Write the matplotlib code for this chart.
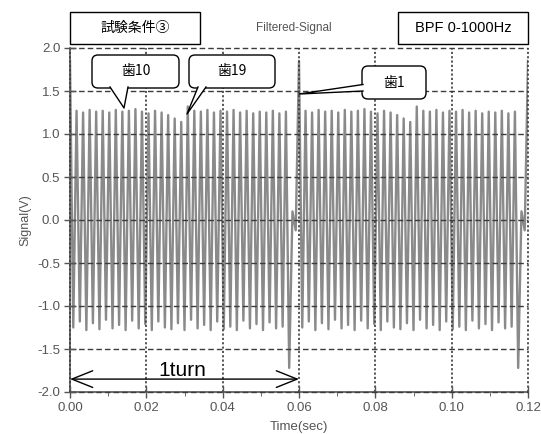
import matplotlib
matplotlib.use("Agg")
import matplotlib.pyplot as plt
from matplotlib.patches import FancyBboxPatch, Polygon, Rectangle
from matplotlib.lines import Line2D
from matplotlib.transforms import Affine2D

# --- data ---
turn_sec = 0.06
teeth_per_turn = 35
n_turns = 2
# peak of each tooth in one turn (tooth 1 first)
peaks = [1.85, 1.27, 1.25, 1.28, 1.26, 1.27, 1.25, 1.28, 1.26, 1.27,
         1.29, 1.26, 1.24, 1.27, 1.25, 1.22, 1.18, 1.14, 1.32, 1.27,
         1.26, 1.28, 1.25, 1.27, 1.26, 1.28, 1.25, 1.27, 1.24, 1.26,
         1.25, 1.27, 1.24, 1.26, 0.10]
# trough following each tooth peak
troughs = [-1.25, -1.18, -1.28, -1.20, -1.27, -1.16, -1.26, -1.22, -1.28, -1.17,
           -1.26, -1.21, -1.28, -1.18, -1.25, -1.27, -1.20, -1.28, -1.16, -1.26,
           -1.22, -1.28, -1.18, -1.27, -1.24, -1.28, -1.17, -1.26, -1.21, -1.28,
           -1.19, -1.26, -1.24, -1.72, -0.12]
xticks = [0.00, 0.02, 0.04, 0.06, 0.08, 0.10, 0.12]
yticks = [-2.0, -1.5, -1.0, -0.5, 0.0, 0.5, 1.0, 1.5, 2.0]

T = turn_sec / teeth_per_turn
t = []
v = []
for turn in range(n_turns):
    for k in range(teeth_per_turn):
        t.append((turn * teeth_per_turn + k) * T)
        v.append(peaks[k])
        t.append((turn * teeth_per_turn + k + 0.5) * T)
        v.append(troughs[k])
t.append(n_turns * teeth_per_turn * T)
v.append(peaks[0])

plt.rcParams['font.family'] = ['Liberation Sans', 'Noto Sans CJK JP', 'DejaVu Sans']
jp = ['Noto Sans CJK JP', 'Liberation Sans']
gray = '#555555'

W, H = 541, 434
fig = plt.figure(figsize=(W / 100, H / 100), dpi=100)
ax = fig.add_axes([70 / W, 1 - 392 / H, (528 - 70) / W, (392 - 48) / H])

ax.plot(t, v, color='#8a8a8a', lw=1.7, zorder=1)

ax.set_xlim(0, 0.12)
ax.set_ylim(-2.0, 2.0)
ax.set_xticks(xticks)
ax.set_xticks([0.01, 0.03, 0.05, 0.07, 0.09, 0.11], minor=True)
ax.set_yticks(yticks)
ax.xaxis.set_major_formatter(matplotlib.ticker.FormatStrFormatter('%.2f'))
ax.yaxis.set_major_formatter(matplotlib.ticker.FormatStrFormatter('%.1f'))
ax.tick_params(axis='both', which='major', direction='inout', length=8,
               color=gray, labelcolor=gray, labelsize=9.5, width=1)
ax.tick_params(axis='x', which='minor', direction='out', length=3, color=gray)
ax.tick_params(axis='x', pad=3)
ax.tick_params(axis='y', pad=3)

for s in ['top', 'right']:
    ax.spines[s].set_visible(False)
for s in ['left', 'bottom']:
    ax.spines[s].set_color(gray)
    ax.spines[s].set_linewidth(1.2)

ax.set_axisbelow(False)
ax.yaxis.grid(True, color='#3c3c3c', lw=1, linestyle=(0, (4, 2.2)))
ax.xaxis.grid(True, color='#3c3c3c', lw=1.2, linestyle=(0, (1.3, 1.3)))
for gl in ax.get_xgridlines() + ax.get_ygridlines():
    gl.set_clip_on(False)

ax.set_xlabel('Time(sec)', color=gray, fontsize=9.5, labelpad=5)
ax.set_ylabel('Signal(V)', color=gray, fontsize=9, labelpad=4)

# 1 turn arrow
ax.annotate('', xy=(0, -1.85), xytext=(turn_sec, -1.85),
            arrowprops=dict(arrowstyle='<->,head_length=1.0,head_width=0.4',
                            color='black', lw=1, mutation_scale=15,
                            shrinkA=0, shrinkB=0))
ax.text(0.0294, -1.81, '1turn', fontsize=15, ha='center', va='baseline')

# pixel coordinate transform (y down)
P = Affine2D().scale(1 / W, -1 / H).translate(0, 1) + fig.transFigure

fig.text(294 / W, 1 - 28 / H, 'Filtered-Signal', color=gray, fontsize=8.5,
         ha='center', va='center')


def plain_box(x0, y0, x1, y1, text, size, family):
    fig.add_artist(Rectangle((x0, y0), x1 - x0, y1 - y0, fc='white', ec='black',
                             lw=1, transform=P, zorder=5))
    fig.text((x0 + x1) / 2 / W, 1 - (y0 + y1) / 2 / H, text, fontsize=size,
             family=family, ha='center', va='center', zorder=6)


def callout(x0, y0, x1, y1, b0, b1, tip, text):
    fig.add_artist(FancyBboxPatch((x0, y0), x1 - x0, y1 - y0,
                                  boxstyle='round,pad=0,rounding_size=6',
                                  fc='white', ec='black', lw=1, transform=P, zorder=5))
    fig.add_artist(Polygon([b0, b1, tip], closed=True, fc='white', ec='none',
                           transform=P, zorder=6))
    fig.add_artist(Line2D([b0[0], tip[0], b1[0]], [b0[1], tip[1], b1[1]],
                          color='black', lw=1, transform=P, zorder=7))
    fig.text((x0 + x1) / 2 / W, 1 - (y0 + y1) / 2 / H, text, fontsize=10,
             family=jp, ha='center', va='center', zorder=8)


plain_box(70, 12, 200, 44, '試験条件③', 10, jp)
plain_box(398, 12, 528, 44, 'BPF 0-1000Hz', 10.5, ['Liberation Sans'])

callout(92, 55, 179, 88, (110, 87), (128, 87), (124, 108), '歯10')
callout(189, 55, 275, 88, (198, 87), (206, 87), (187, 114), '歯19')
callout(362, 66, 426, 99, (363, 84.5), (363, 91), (299, 94), '歯1')

fig.savefig('out.png', dpi=100)
